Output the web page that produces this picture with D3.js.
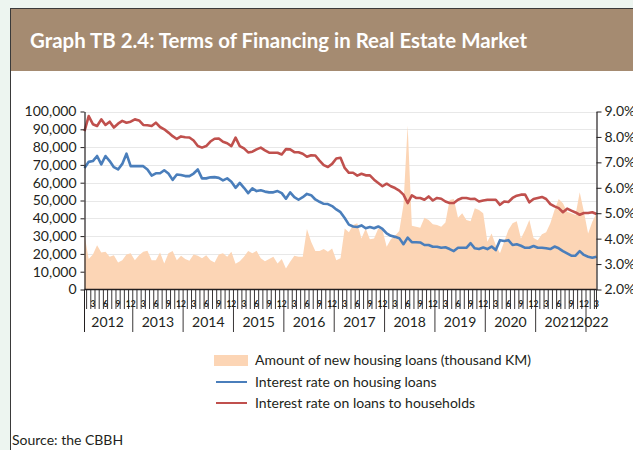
<!DOCTYPE html>
<html><head><meta charset="utf-8">
<script src="https://cdn.jsdelivr.net/npm/d3@7"></script>
<style>
body{margin:0;background:#fff}
svg{display:block}
text{font-family:Lato,"Open Sans",sans-serif}
</style>
</head><body>
<svg id="c" width="633" height="450"></svg>
<script>
const years = ["2012","2013","2014","2015","2016","2017","2018","2019","2020","2021","2022"];
const monthTickLabels = {3:"3",6:"6",9:"9",12:"12"};
const lastMonth2022 = 3;
const leftTicks = [0,10000,20000,30000,40000,50000,60000,70000,80000,90000,100000];
const rightTicks = [2,3,4,5,6,7,8,9];

// Amount of new housing loans (thousand KM), monthly Jan 2012 - Mar 2022
const amount = [
30600,17100,19700,24900,20800,21200,18400,19300,15200,16500,19700,20300,
16500,19300,21200,21700,16500,16500,20800,14600,20300,21600,16500,18900,
17100,16100,19700,18900,17500,19300,16500,15200,19700,20300,18400,21200,
14400,15900,18400,21600,20300,21700,17500,15900,17100,18400,14600,17100,
11800,15600,18900,18400,18400,34000,26800,21600,21600,22700,21200,23100,
16500,17500,34300,32100,36200,37200,28700,34300,28300,28700,34300,33400,
24000,28300,30200,32800,47500,92100,35800,35200,34700,40300,39000,36600,
36200,35200,37700,50300,50800,40300,42800,39000,38300,45600,44600,42800,
26800,31500,24900,20300,26800,33400,37200,38300,28700,33400,39000,29000,
27700,31000,32100,37200,44600,50800,48400,43700,42800,41800,54600,43700,
31500,38000,42800];

// Interest rate on housing loans (%)
const housingRate = [
6.78,7.02,7.05,7.25,6.92,7.25,7.05,6.81,6.72,6.94,7.34,6.85,
6.85,6.85,6.85,6.72,6.48,6.57,6.57,6.69,6.56,6.31,6.52,6.50,
6.46,6.46,6.56,6.72,6.37,6.37,6.41,6.42,6.39,6.29,6.37,6.24,
6.00,6.19,6.00,5.79,5.98,5.87,5.90,5.85,5.82,5.82,5.87,5.79,
5.57,5.82,5.63,5.53,5.63,5.76,5.71,5.54,5.45,5.37,5.36,5.28,
5.15,5.04,4.81,4.55,4.48,4.46,4.52,4.41,4.46,4.41,4.48,4.38,
4.21,4.11,4.07,4.02,3.78,4.04,3.86,3.86,3.85,3.75,3.75,3.68,
3.68,3.64,3.66,3.59,3.51,3.64,3.64,3.64,3.82,3.62,3.59,3.65,
3.59,3.69,3.55,3.94,3.91,3.94,3.75,3.78,3.72,3.64,3.64,3.71,
3.64,3.64,3.62,3.59,3.69,3.62,3.51,3.42,3.33,3.33,3.51,3.36,
3.29,3.25,3.29];

// Interest rate on loans to households (%)
const householdRate = [
8.23,8.82,8.50,8.43,8.69,8.47,8.60,8.37,8.52,8.63,8.56,8.60,
8.69,8.65,8.47,8.46,8.43,8.56,8.39,8.30,8.17,8.03,7.92,8.02,
7.99,7.98,7.86,7.64,7.58,7.64,7.82,7.93,7.94,7.81,7.75,7.64,
7.97,7.64,7.55,7.39,7.42,7.51,7.58,7.47,7.38,7.38,7.38,7.31,
7.52,7.51,7.40,7.40,7.34,7.22,7.28,7.27,7.07,6.89,6.82,6.94,
7.15,7.18,6.78,6.59,6.59,6.48,6.55,6.49,6.49,6.32,6.19,6.06,
6.16,6.06,5.99,5.89,5.73,5.40,5.70,5.60,5.60,5.53,5.66,5.50,
5.60,5.57,5.46,5.40,5.40,5.53,5.60,5.60,5.56,5.57,5.46,5.50,
5.53,5.53,5.53,5.33,5.46,5.44,5.60,5.69,5.73,5.73,5.43,5.56,
5.60,5.64,5.56,5.36,5.27,5.20,5.04,5.18,5.10,5.03,4.94,5.01,
5.01,5.04,4.97];

const legendLabels = ["Amount of new housing loans (thousand KM)","Interest rate on housing loans","Interest rate on loans to households"];
const title = "Graph TB 2.4: Terms of Financing in Real Estate Market";
const source = "Source: the CBBH";

// categories
const cats = [];
years.forEach((y,yi)=>{
  const n = (yi===years.length-1) ? lastMonth2022 : 12;
  for(let m=1;m<=n;m++) cats.push({year:y, month:m, key:y+"-"+m});
});

const C = {red:"#c0504d", blue:"#4a7ebb", area:"#fcd5b5", grid:"#e8e8e8", ink:"#231f20"};
const svg = d3.select("#c");

// frame
svg.append("rect").attr("x",0).attr("y",0).attr("width",633).attr("height",450).attr("fill","#edf5f0");
svg.append("rect").attr("x",10.5).attr("y",8.5).attr("width",640).attr("height",460).attr("fill","#fff").attr("stroke","#3a3a3a").attr("stroke-width",1);
svg.append("rect").attr("x",11).attr("y",9).attr("width",630).attr("height",62).attr("fill","#a58b71");
svg.append("text").attr("x",30).attr("y",48).attr("fill","#fff").attr("font-size",20).attr("font-weight",700)
  .attr("textLength",497).attr("lengthAdjust","spacingAndGlyphs").text(title);

const x = d3.scalePoint().domain(cats.map(d=>d.key)).range([84.5,596.5]);
const step = x.step();
const yL = d3.scaleLinear().domain([0,100000]).range([289.5,111.5]);
const yR = d3.scaleLinear().domain([2,9]).range([289.5,111.5]);

// gridlines
svg.append("g").selectAll("line").data(leftTicks.slice(1)).join("line")
  .attr("x1",84.5).attr("x2",596.5).attr("y1",d=>Math.round(yL(d))+0.5).attr("y2",d=>Math.round(yL(d))+0.5)
  .attr("stroke",C.grid).attr("stroke-width",1);

// area
const area = d3.area().x((d,i)=>x(cats[i].key)).y0(yL(0)).y1(d=>yL(d));
svg.append("path").datum(amount).attr("d",area).attr("fill",C.area);

// lines
const lineR = d3.line().x((d,i)=>x(cats[i].key)).y(d=>yR(d));
svg.append("path").datum(householdRate).attr("d",lineR).attr("fill","none").attr("stroke",C.red).attr("stroke-width",2.6).attr("stroke-linejoin","round");
svg.append("path").datum(housingRate).attr("d",lineR).attr("fill","none").attr("stroke",C.blue).attr("stroke-width",2.6).attr("stroke-linejoin","round");

// left axis
const gL = svg.append("g").attr("transform","translate(84.5,0)")
  .call(d3.axisLeft(yL).tickValues(leftTicks).tickSize(4).tickSizeOuter(0).tickFormat(d3.format(",")));
gL.select(".domain").attr("stroke",C.ink).attr("stroke-width",1.2);
gL.selectAll(".tick line").attr("stroke",C.ink);
gL.selectAll(".tick text").attr("font-size",14).attr("fill",C.ink).attr("x",-8).style("font-family","Lato");

// right axis
const gR = svg.append("g").attr("transform","translate(596.5,0)")
  .call(d3.axisRight(yR).tickValues(rightTicks).tickSize(5).tickSizeOuter(0).tickFormat(d=>d.toFixed(1)+"%"));
gR.select(".domain").attr("stroke",C.ink).attr("stroke-width",1.2);
gR.selectAll(".tick line").attr("stroke",C.ink);
gR.selectAll(".tick text").attr("font-size",14).attr("fill",C.ink).attr("x",8).style("font-family","Lato");

// x axis
const gX = svg.append("g");
gX.append("line").attr("x1",84.5).attr("x2",596.5).attr("y1",289.5).attr("y2",289.5).attr("stroke",C.ink).attr("stroke-width",1.5);
// month boundary ticks
gX.selectAll("line.mt").data(cats.slice(1)).join("line").attr("class","mt")
  .attr("x1",d=>x(d.key)-step/2).attr("x2",d=>x(d.key)-step/2).attr("y1",289.5).attr("y2",d=>d.month===1?332:309)
  .attr("stroke",C.ink).attr("stroke-width",0.9);
gX.append("line").attr("x1",84.5).attr("x2",84.5).attr("y1",289.5).attr("y2",332).attr("stroke",C.ink).attr("stroke-width",1);
gX.append("line").attr("x1",596.5).attr("x2",596.5).attr("y1",289.5).attr("y2",309).attr("stroke",C.ink).attr("stroke-width",0.9);
// month labels
gX.selectAll("text.ml").data(cats.filter(d=>monthTickLabels[d.month])).join("text").attr("class","ml")
  .attr("x",d=>x(d.key)).attr("y",307).attr("text-anchor","middle").attr("font-size",8.5).attr("font-weight",700).attr("fill",C.ink)
  .text(d=>monthTickLabels[d.month]);
// year labels
gX.selectAll("text.yl").data(years).join("text").attr("class","yl")
  .attr("x",y=>{const c=cats.filter(d=>d.year===y);return (x(c[0].key)+x(c[c.length-1].key))/2;})
  .attr("y",327).attr("text-anchor","middle").attr("font-size",14).attr("fill",C.ink).text(y=>y);

// legend
const lg = svg.append("g");
lg.append("rect").attr("x",214).attr("y",355).attr("width",34).attr("height",11).attr("fill",C.area);
lg.append("line").attr("x1",216).attr("x2",247).attr("y1",382).attr("y2",382).attr("stroke",C.blue).attr("stroke-width",2);
lg.append("line").attr("x1",216).attr("x2",247).attr("y1",403).attr("y2",403).attr("stroke",C.red).attr("stroke-width",2);
lg.selectAll("text").data(legendLabels).join("text").attr("x",255).attr("y",(d,i)=>[365,387,408][i])
  .attr("font-size",14).attr("fill",C.ink).text(d=>d);

svg.append("text").attr("x",12).attr("y",445).attr("font-size",14).attr("fill",C.ink).text(source);
</script>
</body></html>
